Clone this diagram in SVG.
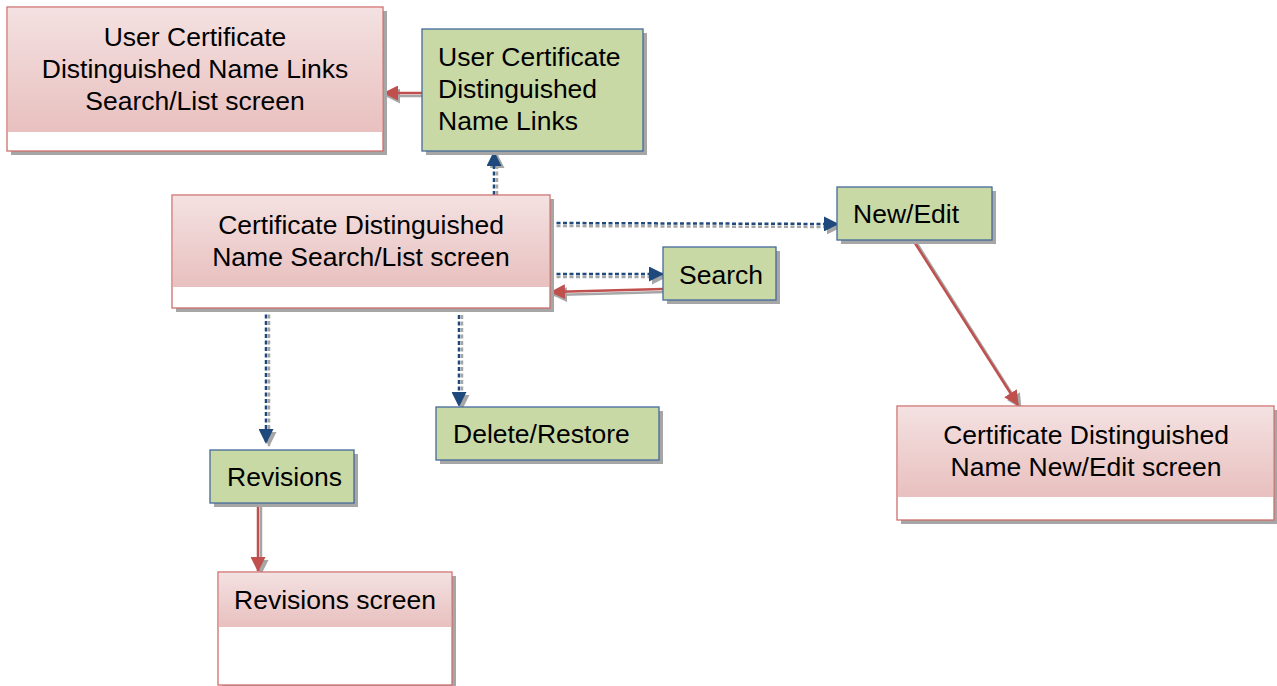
<svg xmlns="http://www.w3.org/2000/svg" width="1277" height="686" viewBox="0 0 1277 686">
<defs>
<linearGradient id="pinkG" x1="0" y1="0" x2="0" y2="1">
<stop offset="0" stop-color="#f4e1e1"/>
<stop offset="1" stop-color="#e8c0bf"/>
</linearGradient>
<marker id="ab" markerUnits="userSpaceOnUse" markerWidth="15" markerHeight="15" viewBox="0 0 15 15" refX="14" refY="7.5" orient="auto"><path d="M0,0 L15,7.5 L0,15 Z" fill="#1f497d"/></marker>
<marker id="ar" markerUnits="userSpaceOnUse" markerWidth="15" markerHeight="15" viewBox="0 0 15 15" refX="14" refY="7.5" orient="auto"><path d="M0,0 L15,7.5 L0,15 Z" fill="#c0504d"/></marker>
<marker id="ag" markerUnits="userSpaceOnUse" markerWidth="15" markerHeight="15" viewBox="0 0 15 15" refX="14" refY="7.5" orient="auto"><path d="M0,0 L15,7.5 L0,15 Z" fill="#a6a6a6"/></marker>
</defs>
<style>
.sh{fill:#a6a6a6}
.pk{fill:#ffffff;stroke:#cd6f6c;stroke-width:1.3}
.pb{fill:url(#pinkG)}
.gr{fill:#c9d9a6;stroke:#44699a;stroke-width:1.3}
text{font-family:"Liberation Sans",Arial,sans-serif;font-size:26.5px;fill:#000}
.c{text-anchor:middle}
.db{stroke:#1f497d;stroke-width:2.5;stroke-dasharray:4 2.5;fill:none}
.dg{stroke:#a6a6a6;stroke-width:2.5;stroke-dasharray:4 2.5;fill:none}
.rr{stroke:#c0504d;stroke-width:2.5;fill:none}
.rg{stroke:#a6a6a6;stroke-width:2.5;fill:none}
</style>
<rect width="1277" height="686" fill="#ffffff"/>

<g id="connectors">
<line class="rg" x1="425" y1="96" x2="386" y2="96" marker-end="url(#ag)"/>
<line class="dg" x1="497" y1="195" x2="497" y2="154" marker-end="url(#ag)"/>
<line class="dg" x1="550" y1="226" x2="841" y2="227" marker-end="url(#ag)"/>
<line class="dg" x1="550" y1="277" x2="666" y2="277" marker-end="url(#ag)"/>
<line class="rg" x1="666" y1="292" x2="553" y2="295" marker-end="url(#ag)"/>
<line class="dg" x1="269" y1="308" x2="269" y2="446" marker-end="url(#ag)"/>
<line class="dg" x1="462" y1="315" x2="462" y2="409" marker-end="url(#ag)"/>
<line class="rg" x1="916" y1="242" x2="1021" y2="408" marker-end="url(#ag)"/>
<line class="rg" x1="261" y1="503" x2="261" y2="574" marker-end="url(#ag)"/>
<line class="rr" x1="422" y1="93" x2="384" y2="93" marker-end="url(#ar)"/>
<line class="db" x1="494" y1="195" x2="494" y2="152" marker-end="url(#ab)"/>
<line class="db" x1="550" y1="223" x2="838" y2="224" marker-end="url(#ab)"/>
<line class="db" x1="550" y1="274" x2="663" y2="274" marker-end="url(#ab)"/>
<line class="rr" x1="663" y1="289" x2="551" y2="292" marker-end="url(#ar)"/>
<line class="db" x1="266" y1="308" x2="266" y2="443" marker-end="url(#ab)"/>
<line class="db" x1="459" y1="315" x2="459" y2="406" marker-end="url(#ab)"/>
<line class="rr" x1="913" y1="240" x2="1018" y2="405" marker-end="url(#ar)"/>
<line class="rr" x1="258" y1="503" x2="258" y2="571" marker-end="url(#ar)"/>
</g>

<g id="ucdnl-screen">
<rect class="sh" x="11" y="11" width="376" height="144"/>
<rect class="pk" x="7" y="7" width="376" height="144"/>
<rect class="pb" x="8" y="8" width="374" height="124"/>
<text class="c" x="195" y="46">User Certificate</text>
<text class="c" x="195" y="78">Distinguished Name Links</text>
<text class="c" x="195" y="110">Search/List screen</text>
</g>

<g id="ucdnl">
<rect class="sh" x="426" y="33" width="221" height="122"/>
<rect class="gr" x="422" y="29" width="221" height="122"/>
<text x="438" y="66">User Certificate</text>
<text x="438" y="98">Distinguished</text>
<text x="438" y="130">Name Links</text>
</g>

<g id="cdn-search-list">
<rect class="sh" x="176" y="199" width="378" height="113"/>
<rect class="pk" x="172" y="195" width="378" height="113"/>
<rect class="pb" x="173" y="196" width="376" height="91"/>
<text class="c" x="361" y="234">Certificate Distinguished</text>
<text class="c" x="361" y="266">Name Search/List screen</text>
</g>

<g id="new-edit">
<rect class="sh" x="841" y="191" width="155" height="53"/>
<rect class="gr" x="837" y="187" width="155" height="53"/>
<text x="853" y="223">New/Edit</text>
</g>

<g id="search">
<rect class="sh" x="667" y="251" width="113" height="53"/>
<rect class="gr" x="663" y="247" width="113" height="53"/>
<text x="679" y="284">Search</text>
</g>

<g id="delete-restore">
<rect class="sh" x="440" y="411" width="223" height="53"/>
<rect class="gr" x="436" y="407" width="223" height="53"/>
<text x="453" y="443">Delete/Restore</text>
</g>

<g id="revisions">
<rect class="sh" x="214" y="454" width="144" height="53"/>
<rect class="gr" x="210" y="450" width="144" height="53"/>
<text x="227" y="486">Revisions</text>
</g>

<g id="cdn-new-edit-screen">
<rect class="sh" x="901" y="410" width="377" height="114"/>
<rect class="pk" x="897" y="406" width="377" height="114"/>
<rect class="pb" x="898" y="407" width="375" height="90"/>
<text class="c" x="1086" y="444">Certificate Distinguished</text>
<text class="c" x="1086" y="476">Name New/Edit screen</text>
</g>

<g id="revisions-screen">
<rect class="sh" x="222" y="576" width="234" height="113"/>
<rect class="pk" x="218" y="572" width="234" height="113"/>
<rect class="pb" x="219" y="573" width="232" height="54"/>
<text class="c" x="335" y="609">Revisions screen</text>
</g>
</svg>
